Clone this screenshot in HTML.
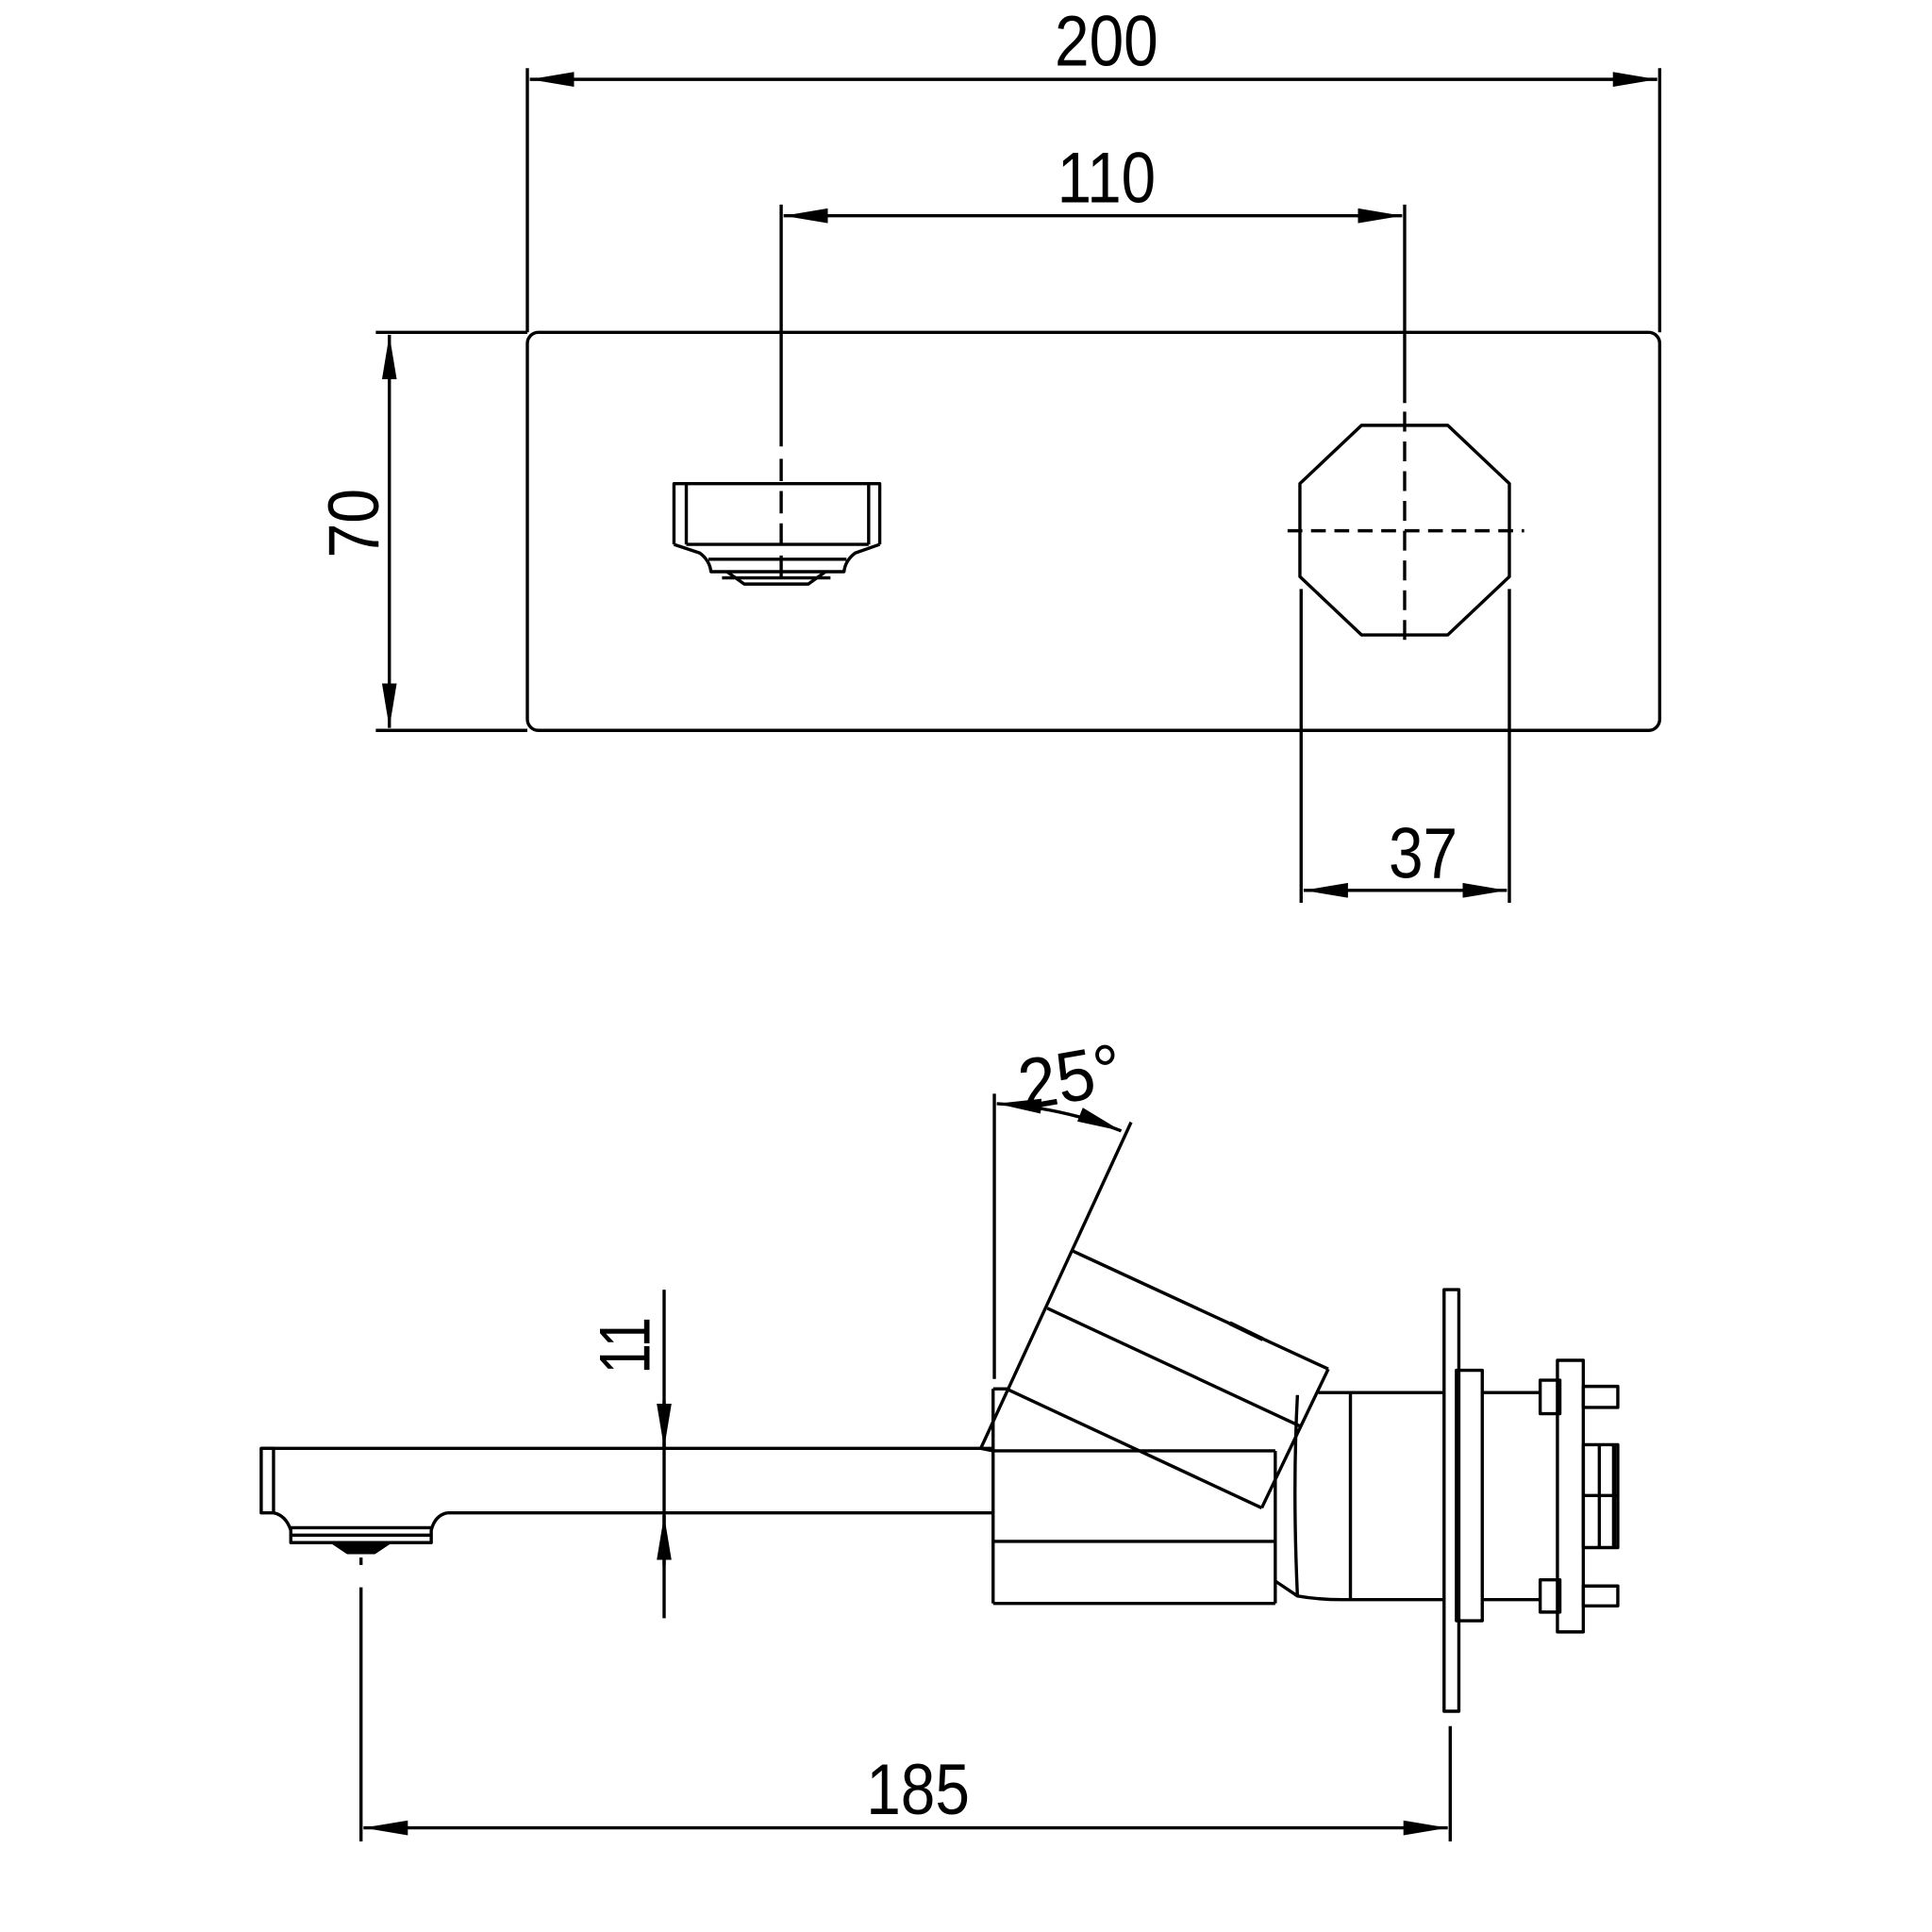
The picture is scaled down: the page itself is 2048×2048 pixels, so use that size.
<!DOCTYPE html>
<html><head><meta charset="utf-8"><style>
html,body{margin:0;padding:0;background:#fff;}
svg{display:block;}
text{font-family:"Liberation Sans",sans-serif;fill:#000;}
</style></head><body>
<svg width="2048" height="2048" viewBox="0 0 1568 1558" preserveAspectRatio="none" xmlns="http://www.w3.org/2000/svg">
<defs>
<marker id="a" viewBox="0 0 36 12" refX="36" refY="6" markerWidth="36" markerHeight="12" markerUnits="userSpaceOnUse" orient="auto-start-reverse">
<path d="M0,0 L36,6 L0,12 Z" fill="#000"/>
</marker>
</defs>
<g fill="none" stroke="#000" stroke-width="2.6" stroke-linejoin="round">
<line x1="428" y1="55" x2="428" y2="268"/>
<line x1="1347" y1="55" x2="1347" y2="268"/>
<line x1="430" y1="64" x2="1345" y2="64" marker-start="url(#a)" marker-end="url(#a)"/>
<line x1="634" y1="165" x2="634" y2="360"/>
<line x1="634" y1="370" x2="634" y2="470" stroke-dasharray="18,8"/>
<line x1="1140" y1="165" x2="1140" y2="325"/>
<line x1="1140" y1="332" x2="1140" y2="522" stroke-dasharray="16,8"/>
<line x1="636" y1="174" x2="1138" y2="174" marker-start="url(#a)" marker-end="url(#a)"/>
<rect x="428" y="268" width="919" height="321" rx="9"/>
<line x1="305" y1="268" x2="428" y2="268"/>
<line x1="305" y1="589" x2="428" y2="589"/>
<line x1="316" y1="270" x2="316" y2="587" marker-start="url(#a)" marker-end="url(#a)"/>
<polygon points="1105,343 1175,343 1225,390 1225,465 1175,512 1105,512 1055,465 1055,390"/>
<line x1="1045" y1="428" x2="1237" y2="428" stroke-dasharray="12,7"/>
<line x1="1056" y1="475" x2="1056" y2="728"/>
<line x1="1225" y1="475" x2="1225" y2="728"/>
<line x1="1058" y1="718" x2="1223" y2="718" marker-start="url(#a)" marker-end="url(#a)"/>
<path d="M547,439 L547,390 L714,390 L714,439"/>
<line x1="557" y1="390" x2="557" y2="439"/>
<line x1="705" y1="390" x2="705" y2="439"/>
<line x1="557" y1="439" x2="705" y2="439"/>
<path d="M547,439 L568,446 Q576,452 577,461 L685,461 Q686,452 694,446 L714,439"/>
<line x1="575" y1="451" x2="687" y2="451"/>
<path d="M590,461 L604,471 L656,471 L670,461"/>
<line x1="586" y1="466" x2="674" y2="466"/>
<line x1="539" y1="1040" x2="539" y2="1305"/>
<line x1="539" y1="1130" x2="539" y2="1168" marker-end="url(#a)"/>
<line x1="539" y1="1262" x2="539" y2="1222" marker-end="url(#a)"/>
<line x1="212" y1="1168" x2="806" y2="1168"/>
<line x1="363" y1="1220" x2="806" y2="1220"/>
<rect x="212" y="1168" width="10" height="52"/>
<path d="M222,1220 Q232,1222 236,1234 L236,1244 L350,1244 L350,1234 Q353,1222 363,1220"/>
<line x1="236" y1="1238" x2="350" y2="1238"/>
<line x1="236" y1="1232" x2="350" y2="1232"/>
<path d="M270,1244 L282,1252 L304,1252 L316,1244" fill="#000"/>
<line x1="293" y1="1256" x2="293" y2="1262"/>
<line x1="293" y1="1280" x2="293" y2="1485"/>
<line x1="1177" y1="1392" x2="1177" y2="1485"/>
<line x1="295" y1="1474" x2="1175" y2="1474" marker-start="url(#a)" marker-end="url(#a)"/>
<line x1="806" y1="1120" x2="806" y2="1293"/>
<line x1="806" y1="1120" x2="818" y2="1120"/>
<line x1="806" y1="1170" x2="1035" y2="1170"/>
<line x1="806" y1="1243" x2="1035" y2="1243"/>
<line x1="806" y1="1293" x2="1035" y2="1293"/>
<line x1="1035" y1="1170" x2="1035" y2="1293"/>
<line x1="807" y1="882" x2="807" y2="1112"/>
<line x1="796" y1="1168" x2="918" y2="905"/>
<line x1="796" y1="1168" x2="806" y2="1170"/>
<line x1="871" y1="1009" x2="1078" y2="1104"/>
<line x1="850" y1="1055" x2="1055" y2="1150"/>
<line x1="819" y1="1121" x2="1024" y2="1216"/>
<line x1="1078" y1="1104" x2="1024" y2="1216"/>
<line x1="998" y1="1067" x2="1025" y2="1080" stroke-width="3.5"/>
<path d="M809,890 Q862,893 910,912" marker-start="url(#a)" marker-end="url(#a)"/>
<path d="M1070,1123 L1172,1123"/>
<path d="M1053,1125 Q1049,1200 1053,1287 Q1070,1290 1090,1290 L1172,1290"/>
<line x1="1035" y1="1275" x2="1053" y2="1287"/>
<line x1="1096" y1="1123" x2="1096" y2="1290"/>
<rect x="1172" y="1040" width="12" height="340"/>
<rect x="1182" y="1105" width="21" height="202"/>
<line x1="1203" y1="1123" x2="1250" y2="1123"/>
<line x1="1203" y1="1290" x2="1250" y2="1290"/>
<rect x="1250" y="1113" width="16" height="27"/>
<rect x="1250" y="1274" width="16" height="26"/>
<rect x="1264" y="1097" width="21" height="219"/>
<rect x="1285" y="1118" width="28" height="17"/>
<rect x="1285" y="1279" width="28" height="16"/>
<rect x="1285" y="1165" width="28" height="83"/>
<line x1="1285" y1="1206" x2="1313" y2="1206"/>
<line x1="1298" y1="1165" x2="1298" y2="1248"/>
<line x1="1310" y1="1165" x2="1310" y2="1248" stroke-width="3.5"/>
</g>
<g font-size="58">
<text x="898" y="53" text-anchor="middle" textLength="84" lengthAdjust="spacingAndGlyphs">200</text>
<text x="898" y="163" text-anchor="middle" textLength="80" lengthAdjust="spacingAndGlyphs">110</text>
<text x="1155" y="708" text-anchor="middle" textLength="56" lengthAdjust="spacingAndGlyphs">37</text>
<text x="745" y="1463" text-anchor="middle" textLength="84" lengthAdjust="spacingAndGlyphs">185</text>
<text transform="translate(307,422) rotate(-90)" text-anchor="middle" textLength="56" lengthAdjust="spacingAndGlyphs">70</text>
<text transform="translate(527,1085) rotate(-90)" text-anchor="middle" textLength="46" lengthAdjust="spacingAndGlyphs">11</text>
<text transform="translate(872,888) rotate(-10)" text-anchor="middle" textLength="84" lengthAdjust="spacingAndGlyphs">25°</text>
</g>
</svg>
</body></html>
